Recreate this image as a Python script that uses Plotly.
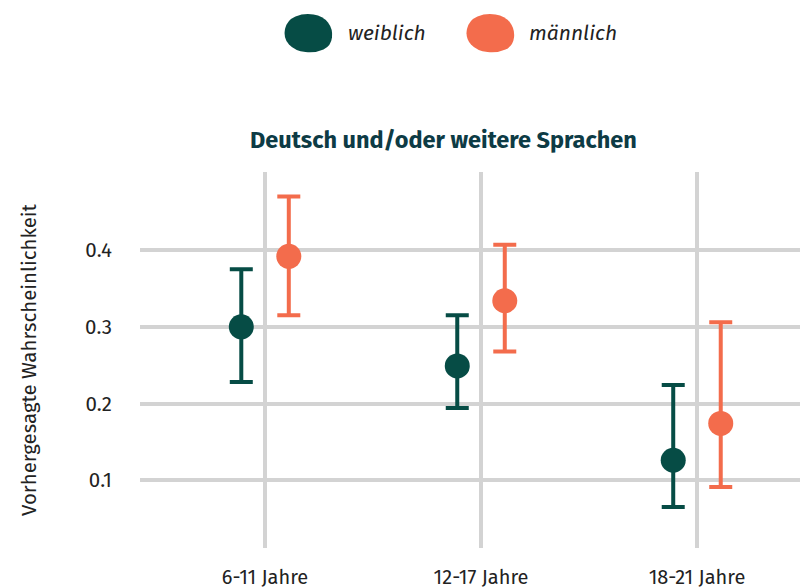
import plotly.graph_objects as go

categories = ["6-11 Jahre", "12-17 Jahre", "18-21 Jahre"]
groups = ["weiblich", "männlich"]
colors = ["#064C45", "#F36C4C"]
estimates = {
    "weiblich": [0.300, 0.249, 0.126],
    "männlich": [0.392, 0.334, 0.174],
}
lower = {
    "weiblich": [0.228, 0.194, 0.065],
    "männlich": [0.315, 0.268, 0.091],
}
upper = {
    "weiblich": [0.375, 0.315, 0.224],
    "männlich": [0.470, 0.407, 0.306],
}
y_ticks = [0.1, 0.2, 0.3, 0.4]
title_text = "Deutsch und/oder weitere Sprachen"
y_title = "Vorhergesagte Wahrscheinlichkeit"

FONT = "Fira Sans, Noto Sans, sans-serif"
W, H = 801, 588
ML, MR, MT, MB = 140, 1, 172, 40
PW, PH = W - ML - MR, H - MT - MB

def px_to_paper(px, py):
    return (px - ML) / PW, (H - MB - py) / PH

offsets = [-0.11, 0.11]
fig = go.Figure()
for g, c, off in zip(groups, colors, offsets):
    est = estimates[g]
    xs = [i + off for i in range(len(categories))]
    fig.add_trace(go.Scatter(
        x=xs, y=est, mode="markers", name=g, showlegend=False,
        marker=dict(size=25, color=c),
        error_y=dict(type="data", symmetric=False,
                     array=[u - e for u, e in zip(upper[g], est)],
                     arrayminus=[e - l for e, l in zip(est, lower[g])],
                     color=c, thickness=4, width=11.5),
    ))

# Manual legend blobs + labels
shapes = []
annotations = []
legend_pos = [(308, 33, 346), (490, 33, 527)]
for (cx, cy, tx), g, c in zip(legend_pos, groups, colors):
    pts = [(-25, 5), (-21, -13), (-4, -20), (15, -17), (25, -4), (23, 13), (8, 20), (-13, 18)]
    coords = [px_to_paper(cx + dx, cy + dy) for dx, dy in pts]
    n = len(coords)
    mids = [((coords[i][0] + coords[(i + 1) % n][0]) / 2, (coords[i][1] + coords[(i + 1) % n][1]) / 2) for i in range(n)]
    path = f"M {mids[-1][0]},{mids[-1][1]}"
    for i in range(n):
        path += f" Q {coords[i][0]},{coords[i][1]} {mids[i][0]},{mids[i][1]}"
    path += " Z"
    shapes.append(dict(type="path", xref="paper", yref="paper", path=path,
                       fillcolor=c, line=dict(width=0)))
    ax, ay = px_to_paper(tx, cy)
    annotations.append(dict(x=ax, y=ay, xref="paper", yref="paper", text=f"<i>{g}</i>",
                            showarrow=False, xanchor="left", yanchor="middle",
                            font=dict(family=FONT, size=21, color="#222222")))

tx, ty = px_to_paper(443, 140)
annotations.append(dict(x=tx, y=ty, xref="paper", yref="paper", text=f"<b>{title_text}</b>",
                        showarrow=False, xanchor="center", yanchor="middle",
                        font=dict(family=FONT, size=23.5, color="#0D3B45")))

fig.update_layout(
    width=W, height=H,
    margin=dict(l=ML, r=MR, t=MT, b=MB, autoexpand=False),
    plot_bgcolor="white", paper_bgcolor="white",
    showlegend=False,
    shapes=shapes, annotations=annotations,
    font=dict(family=FONT, size=19, color="#222222"),
    xaxis=dict(range=[-0.579, 2.477], tickmode="array", tickvals=list(range(len(categories))),
               ticktext=categories, showgrid=True, gridcolor="#D3D3D3", gridwidth=4,
               zeroline=False, showline=False, ticks="outside", ticklen=11, automargin=False,
               tickcolor="rgba(0,0,0,0)", tickfont=dict(size=20, color="#222222")),
    yaxis=dict(range=[0.0115, 0.502], tickmode="array", tickvals=y_ticks,
               ticktext=[str(v) for v in y_ticks], showgrid=True, gridcolor="#D3D3D3",
               gridwidth=4, zeroline=False, showline=False, ticks="outside", ticklen=23,
               automargin=False,
               tickcolor="rgba(0,0,0,0)", tickfont=dict(size=20.5, color="#222222"),
               title=dict(text=y_title, font=dict(size=20.4, color="#222222"), standoff=42)),
)

fig.write_html("out.html", config={"displayModeBar": False},
               post_script="document.body.style.margin='0';document.body.style.overflow='hidden';")
